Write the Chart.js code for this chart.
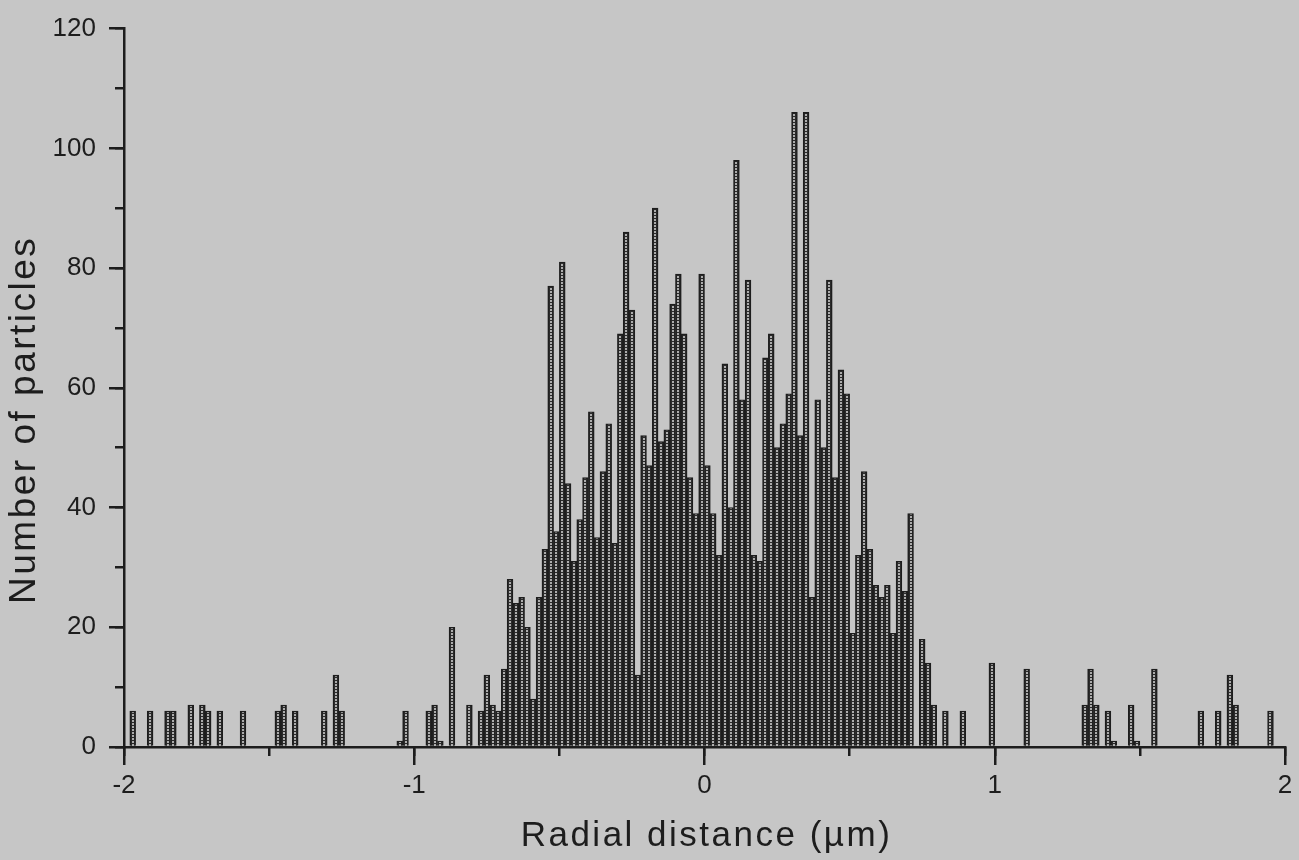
<!DOCTYPE html>
<html>
<head>
<meta charset="utf-8">
<title>Radial distance histogram</title>
<script src="https://cdn.jsdelivr.net/npm/chart.js@4.4.1/dist/chart.umd.min.js"></script>
<style>
  html, body { margin: 0; padding: 0; background: #c6c6c6; }
  canvas { display: block; }
</style>
</head>
<body>
<canvas id="histChart" width="1299" height="860"></canvas>
<script>
// bin centres in µm (bins are 0.02 µm wide) and particle counts per bin
const tailLeftX = [-1.97, -1.91, -1.85, -1.83, -1.77, -1.73, -1.71, -1.67, -1.59, -1.47, -1.45,
                   -1.41, -1.31, -1.27, -1.25, -1.05, -1.03, -0.95, -0.93, -0.91, -0.87, -0.81];
const tailLeftN = [6, 6, 6, 6, 7, 7, 6, 6, 6, 6, 7,
                   6, 6, 12, 6, 1, 6, 6, 7, 1, 20, 7];

const coreX = [-0.77, -0.75, -0.73, -0.71, -0.69, -0.67, -0.65, -0.63, -0.61, -0.59,
               -0.57, -0.55, -0.53, -0.51, -0.49, -0.47, -0.45, -0.43, -0.41, -0.39,
               -0.37, -0.35, -0.33, -0.31, -0.29, -0.27, -0.25, -0.23, -0.21, -0.19,
               -0.17, -0.15, -0.13, -0.11, -0.09, -0.07, -0.05, -0.03, -0.01, 0.01,
               0.03, 0.05, 0.07, 0.09, 0.11, 0.13, 0.15, 0.17, 0.19, 0.21,
               0.23, 0.25, 0.27, 0.29, 0.31, 0.33, 0.35, 0.37, 0.39, 0.41,
               0.43, 0.45, 0.47, 0.49, 0.51, 0.53, 0.55, 0.57, 0.59, 0.61,
               0.63, 0.65, 0.67, 0.69, 0.71, 0.75, 0.77, 0.79];
const coreN = [6, 12, 7, 6, 13, 28, 24, 25, 20, 8,
               25, 33, 77, 36, 81, 44, 31, 38, 45, 56,
               35, 46, 54, 34, 69, 86, 73, 12, 52, 47,
               90, 51, 53, 74, 79, 69, 45, 39, 79, 47,
               39, 32, 64, 40, 98, 58, 78, 32, 31, 65,
               69, 50, 54, 59, 106, 52, 106, 25, 58, 50,
               78, 45, 63, 59, 19, 32, 46, 33, 27, 25,
               27, 19, 31, 26, 39, 18, 14, 7];

const tailRightX = [0.83, 0.89, 0.99, 1.11, 1.31, 1.33, 1.35, 1.39, 1.41,
                    1.47, 1.49, 1.55, 1.71, 1.77, 1.81, 1.83, 1.95];
const tailRightN = [6, 6, 14, 13, 7, 13, 7, 6, 1,
                    7, 1, 13, 6, 6, 12, 7, 6];

const binX = tailLeftX.concat(coreX, tailRightX);
const binN = tailLeftN.concat(coreN, tailRightN);
const points = binX.map((x, i) => ({ x: x, y: binN[i] }));

const ink = '#1d1d1d';
const barDark = '#2a2a2a';
const family = "'Liberation Sans', Arial, Helvetica, sans-serif";

// one tile: dark body with a single column of light dots at its left edge
const dotTile = document.createElement('canvas');
dotTile.width = 64;
dotTile.height = 3;
(function () {
  const g = dotTile.getContext('2d');
  g.fillStyle = barDark;
  g.fillRect(0, 0, 64, 3);
  g.fillStyle = '#adadad';
  g.fillRect(0, 0, 2, 2);
})();

const ctx = document.getElementById('histChart').getContext('2d');

// dotted fill lined up with the middle of each bar
function barFill(c) {
  if (!c.parsed) return barDark;
  const px = c.chart.scales.x.getPixelForValue(c.parsed.x);
  const p = ctx.createPattern(dotTile, 'repeat');
  p.setTransform(new DOMMatrix([1, 0, 0, 1, Math.round(px) - 1, 0]));
  return p;
}

// wider tracking on the axis titles, plus a small offset for each
const titleSpacing = {
  id: 'titleSpacing',
  beforeDraw(chart, args, opts) {
    Object.values(chart.scales).forEach(scale => {
      if (scale.$spaced) return;
      const shift = opts.shift[scale.id] || [0, 0];
      const drawTitle = scale.drawTitle;
      scale.drawTitle = function () {
        const c = this.ctx;
        c.save();
        c.letterSpacing = opts.spacing;
        c.translate(shift[0], shift[1]);
        drawTitle.call(this);
        c.restore();
      };
      scale.$spaced = true;
    });
  }
};

new Chart(ctx, {
  type: 'bar',
  data: {
    datasets: [{
      label: 'Number of particles',
      data: points,
      backgroundColor: barFill,
      borderColor: ink,
      borderWidth: 1.4,
      barPercentage: 1,
      categoryPercentage: 1,
      xAxisID: 'x',
      yAxisID: 'y'
    }]
  },
  options: {
    responsive: false,
    animation: false,
    devicePixelRatio: 1,
    events: [],
    layout: { padding: { left: 0, top: 27, right: 14, bottom: 0 } },
    plugins: {
      legend: { display: false },
      tooltip: { enabled: false },
      titleSpacing: { spacing: '2.5px', shift: { x: [2, 0], y: [0, 32] } }
    },
    scales: {
      x: {
        type: 'linear',
        position: 'bottom',
        weight: 1,
        min: -2,
        max: 2,
        offset: false,
        grid: { offset: false, drawOnChartArea: false, tickLength: 18, lineWidth: 2.5, tickWidth: 2.5, tickColor: ink },
        border: { display: true, color: ink, width: 2.5 },
        ticks: {
          stepSize: 1,
          padding: 5,
          maxRotation: 0,
          color: ink,
          font: { family: family, size: 26 }
        },
        title: {
          display: true,
          text: 'Radial distance (µm)',
          color: ink,
          font: { family: family, size: 35, lineHeight: 1 },
          padding: { top: 0, bottom: 6 }
        },
        afterFit: s => { s.height = 113; }
      },
      xMinor: {
        type: 'linear',
        position: 'bottom',
        weight: 0,
        min: -2,
        max: 2,
        offset: false,
        grid: { offset: false, drawOnChartArea: false, tickLength: 9, lineWidth: 2.5, tickWidth: 2.5, tickColor: ink },
        border: { display: false },
        ticks: { stepSize: 0.5, display: false },
        afterFit: s => { s.height = 0; }
      },
      y: {
        type: 'linear',
        position: 'left',
        weight: 1,
        min: 0,
        max: 120,
        grid: { drawOnChartArea: false, tickLength: 15, lineWidth: 2.5, tickWidth: 2.5, tickColor: ink },
        border: { display: true, color: ink, width: 2.5 },
        ticks: {
          stepSize: 20,
          padding: 13,
          color: ink,
          font: { family: family, size: 26 }
        },
        title: {
          display: true,
          text: 'Number of particles',
          color: ink,
          font: { family: family, size: 37, lineHeight: 1 },
          padding: { top: 6, bottom: 0 }
        },
        afterFit: s => { s.width = 124; }
      },
      yMinor: {
        type: 'linear',
        position: 'left',
        weight: 0,
        min: 0,
        max: 120,
        grid: { drawOnChartArea: false, tickLength: 9, lineWidth: 2.5, tickWidth: 2.5, tickColor: ink },
        border: { display: false },
        ticks: { stepSize: 10, display: false },
        afterFit: s => { s.width = 0; }
      }
    }
  },
  plugins: [titleSpacing]
});
</script>
</body>
</html>
